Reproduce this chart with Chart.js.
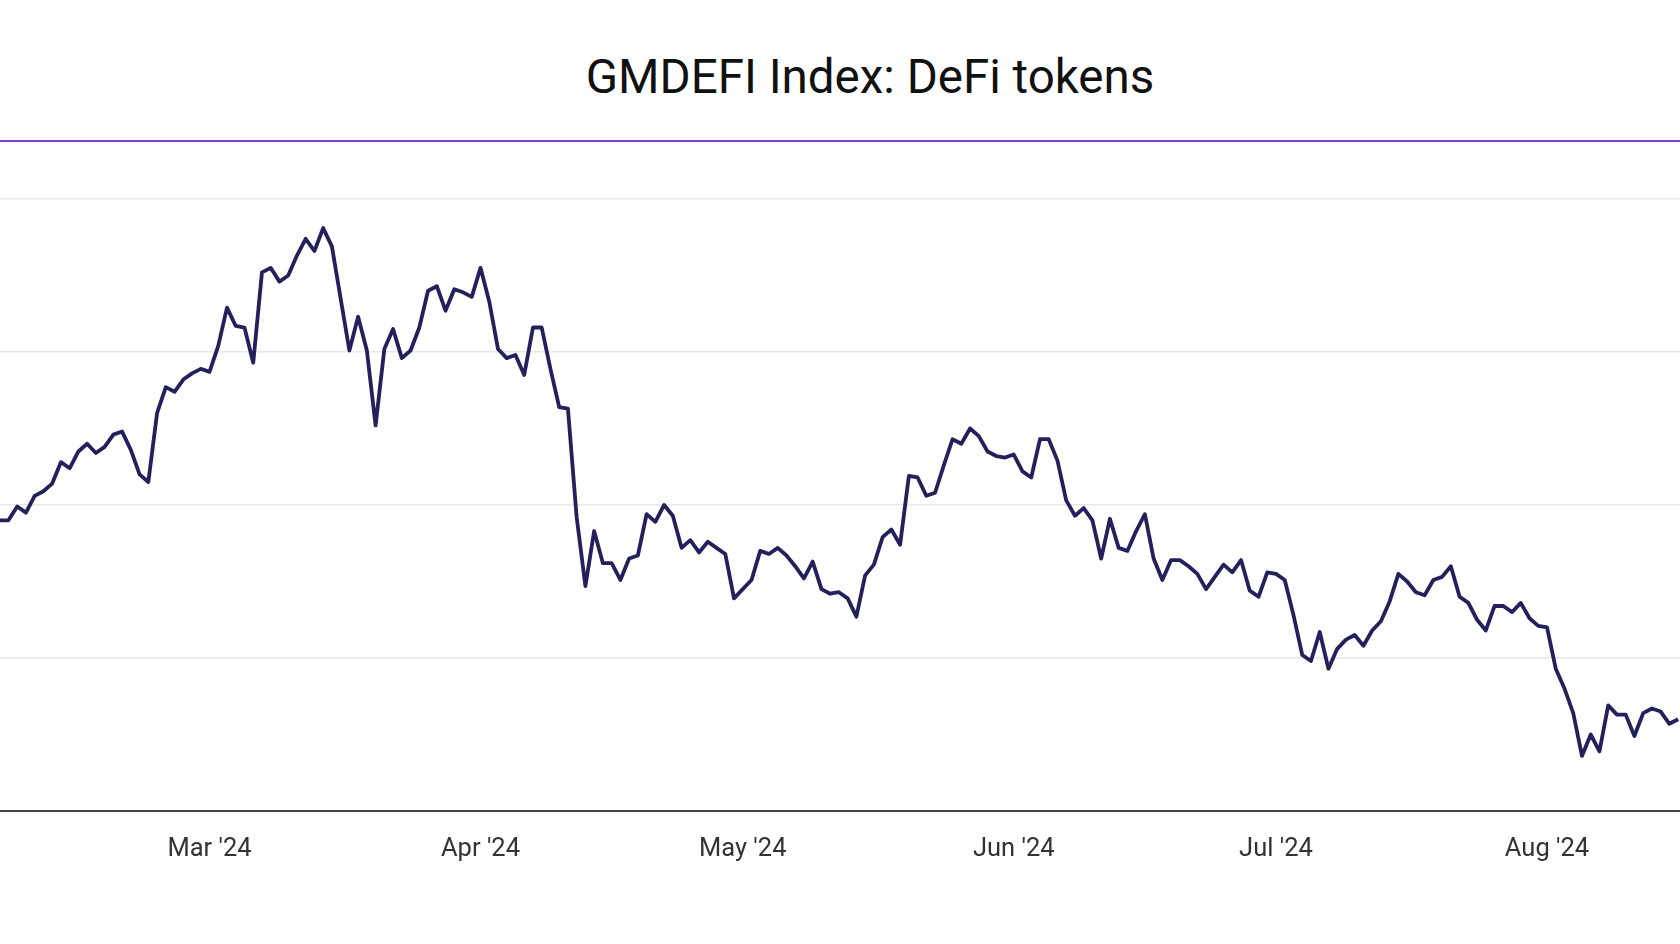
<!DOCTYPE html>
<html>
<head>
<meta charset="utf-8">
<script src="https://cdn.jsdelivr.net/npm/chart.js@4.4.1/dist/chart.umd.min.js"></script>
<style>
  html, body { margin: 0; padding: 0; background: #fff; overflow: hidden; }
  body { width: 1680px; height: 944px; position: relative; }
  #title {
    position: absolute; left: 0; width: 1740px; top: 48px;
    text-align: center; font-family: Roboto, sans-serif; font-size: 47.5px;
    color: #111; line-height: 58px;
  }
  #rule { position: absolute; left: 0; width: 1680px; top: 139.5px; height: 2.5px; background: #8a3ccf; }
  #wrap { position: absolute; left: -104px; top: 189px; width: 1982px; height: 692px; }
</style>
</head>
<body>
<div id="title">GMDEFI Index: DeFi tokens</div>
<div id="rule"></div>
<div id="wrap"><canvas id="chart"></canvas></div>
<script>
// daily index values, Feb 6 – Aug 16 2024
const feb = [59.0,59.0,59.9,59.5,60.6,60.9,61.4,62.8,62.4,63.5,64.0,63.4,63.8,64.6,64.8,63.6,62.0,61.5,66.0,67.7,67.4,68.2,68.6,68.9];
const mar = [68.7,70.4,72.9,71.7,71.6,69.3,75.2,75.5,74.6,75.0,76.3,77.4,76.6,78.1,76.9,73.5,70.1,72.3,70.1,65.2,70.2,71.5,69.6,70.1,71.6,74.0,74.3,72.7,74.1,73.9,73.6];
const apr = [75.5,73.3,70.2,69.6,69.8,68.5,71.6,71.6,68.9,66.4,66.3,59.2,54.7,58.3,56.2,56.2,55.1,56.5,56.7,59.4,58.9,60.0,59.3,57.2,57.7,56.9,57.6,57.2,56.8,53.9];
const may = [54.5,55.1,57.0,56.8,57.2,56.7,56.0,55.2,56.3,54.5,54.2,54.3,53.9,52.7,55.4,56.1,57.9,58.4,57.4,61.9,61.8,60.6,60.8,62.6,64.3,64.0,65.0,64.5,63.5,63.2,63.1];
const jun = [63.3,62.2,61.8,64.3,64.3,62.9,60.3,59.3,59.8,59.0,56.5,59.1,57.2,57.0,58.3,59.4,56.5,55.1,56.4,56.4,56.0,55.5,54.5,55.3,56.1,55.6,56.4,54.4,54.0,55.6];
const jul = [55.5,55.1,52.8,50.2,49.8,51.7,49.3,50.6,51.2,51.5,50.8,51.8,52.4,53.7,55.5,55.0,54.3,54.1,55.1,55.3,56.0,54.0,53.6,52.5,51.8,53.4,53.4,53.0,53.6,52.6,52.1];
const aug = [52.0,49.3,48.0,46.4,43.6,45.0,43.9,46.9,46.3,46.3,44.9,46.4,46.7,46.5,45.7,46.0];

const months      = [feb, mar, apr, may, jun, jul, aug];
const monthIdx    = [1, 2, 3, 4, 5, 6, 7];       // Feb..Aug (0-based months)
const firstDays   = [6, 1, 1, 1, 1, 1, 1];
const tickLabels  = ["Feb '24", "Mar '24", "Apr '24", "May '24", "Jun '24", "Jul '24", "Aug '24", "Sep '24"];
const yTicks      = [40, 50, 60, 70, 80];

const DAY = 86400000;
const origin = Date.UTC(2024, 1, 1);
const dayOf = (m, d) => Math.round((Date.UTC(2024, m, d) - origin) / DAY);

const points = [];
months.forEach((arr, i) => {
  arr.forEach((v, j) => points.push({ x: dayOf(monthIdx[i], firstDays[i] + j), y: v }));
});
const tickDays = tickLabels.map((_, i) => dayOf(1 + i, 1));

new Chart(document.getElementById('chart'), {
  type: 'line',
  data: { datasets: [{
    data: points,
    borderColor: '#24205c',
    borderWidth: 3.8,
    pointRadius: 0,
    tension: 0,
    borderJoinStyle: 'round'
  }]},
  options: {
    responsive: true,
    maintainAspectRatio: false,
    animation: false,
    layout: { padding: { left: 60, right: 60, top: 10, bottom: 0 } },
    plugins: { legend: { display: false }, tooltip: { enabled: false } },
    scales: {
      x: {
        type: 'linear',
        min: tickDays[0],
        max: tickDays[tickDays.length - 1],
        afterBuildTicks: s => { s.ticks = tickDays.map(v => ({ value: v })); },
        afterFit: s => { s.height = 70; },
        grid: { display: false },
        border: { display: true, color: '#444', width: 2 },
        ticks: {
          autoSkip: false, maxRotation: 0, padding: 15,
          color: '#333', font: { family: 'Roboto', size: 25.5 },
          callback: v => tickLabels[tickDays.indexOf(v)]
        }
      },
      y: {
        min: yTicks[0],
        max: yTicks[yTicks.length - 1],
        afterBuildTicks: s => { s.ticks = yTicks.map(v => ({ value: v })); },
        afterFit: s => { s.width = 0; },
        grid: { color: '#e8e8e8', lineWidth: 1.5, drawTicks: false },
        border: { display: false },
        ticks: { display: false }
      }
    }
  }
});
</script>
</body>
</html>
